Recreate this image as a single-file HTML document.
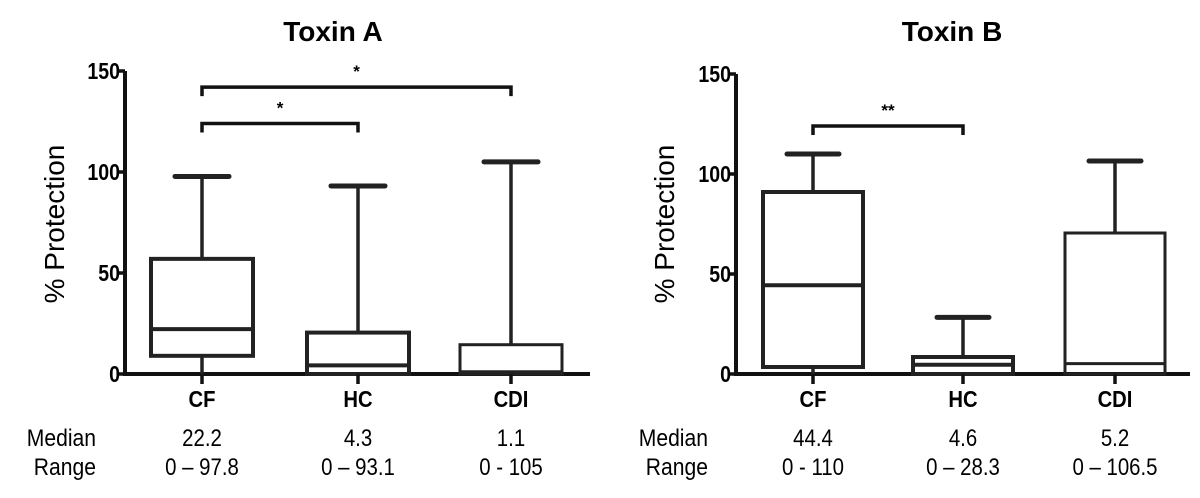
<!DOCTYPE html>
<html><head><meta charset="utf-8"><style>
body{margin:0;background:#fff;}
svg{display:block;font-family:"Liberation Sans",Arial,sans-serif;}
</style></head><body>
<svg id="c" width="1200" height="498" viewBox="0 0 1200 498"></svg>
<script>
const categories = ["CF","HC","CDI"];
const toxinAMax = [97.8, 93.1, 105];
const toxinAQ3 = [57, 20.5, 14.5];
const toxinAMedian = [22.2, 4.3, 1.1];
const toxinAQ1 = [9, 0, 0];
const toxinAMin = [0, 0, 0];
const toxinAWidth = [4, 4, 3];
const toxinBMax = [110, 28.3, 106.5];
const toxinBQ3 = [91, 8.5, 70.5];
const toxinBMedian = [44.4, 4.6, 5.2];
const toxinBQ1 = [3.5, 0, 0];
const toxinBMin = [0, 0, 0];
const toxinBWidth = [4, 4, 3];
const yTicks = [0, 50, 100, 150];
const medianLabelsA = ["22.2","4.3","1.1"];
const rangeLabelsA = ["0 – 97.8","0 – 93.1","0 - 105"];
const medianLabelsB = ["44.4","4.6","5.2"];
const rangeLabelsB = ["0 - 110","0 – 28.3","0 – 106.5"];

const NS="http://www.w3.org/2000/svg";
const svg=document.getElementById('c');
function mk(tag,attrs,parent){const e=document.createElementNS(NS,tag);for(const k in attrs)e.setAttribute(k,attrs[k]);(parent||svg).appendChild(e);return e;}
function sq(x,s){return `translate(${x},0) scale(${s},1) translate(${-x},0)`;}

function chart(cfg){
  const g=mk('g',{});
  
  
  const y=v=>cfg.y0-(v/150)*(cfg.y0-cfg.y150);
  const x=i=>cfg.centers[i];
  const t=mk('text',{x:cfg.titleX,y:41,'text-anchor':'middle','font-size':28,'font-weight':'bold'},g);
  t.textContent=cfg.title;
  
  
  const yl=mk('text',{transform:`translate(${cfg.ylabX},224) rotate(-90)`,'text-anchor':'middle','font-size':28},g);
  yl.textContent='% Protection';
  
  
  const ax=mk('path',{d:`M${cfg.axX},${y(150)} V${cfg.y0} H${cfg.axEnd}`,stroke:'#111','stroke-width':4,fill:'none'},g);
  
  
  yTicks.forEach(v=>{
    mk('line',{x1:cfg.axX-6,x2:cfg.axX,y1:y(v),y2:y(v),stroke:'#111','stroke-width':3.5},g);
    const tl=mk('text',{x:cfg.axX-5,y:y(v)+8,'text-anchor':'end','font-size':23,'font-weight':'bold',transform:sq(cfg.axX-5,0.85)},g);
    tl.textContent=v;
    
    
  });
  categories.forEach((c,i)=>{
    const cx=x(i), hw=cfg.boxHalf, cw=cfg.capHalf, sw=cfg.widths[i];
    const bg=mk('g',{stroke:'#222','stroke-width':sw,fill:'none'},g);
    
    
    mk('line',{x1:cx,x2:cx,y1:y(cfg.max[i]),y2:y(cfg.q3[i]),'stroke-width':3.5},bg);
    mk('line',{x1:cx-cw,x2:cx+cw,y1:y(cfg.max[i]),y2:y(cfg.max[i]),'stroke-width':5,'stroke-linecap':'round'},bg);
    mk('line',{x1:cx,x2:cx,y1:y(cfg.q1[i]),y2:y(cfg.min[i]),'stroke-width':3.5},bg);
    mk('rect',{x:cx-hw,y:y(cfg.q3[i]),width:2*hw,height:y(cfg.q1[i])-y(cfg.q3[i])},bg);
    mk('line',{x1:cx-hw,x2:cx+hw,y1:y(cfg.med[i]),y2:y(cfg.med[i])},bg);
    mk('line',{x1:cx,x2:cx,y1:cfg.y0,y2:cfg.y0+10,stroke:'#111','stroke-width':3.5},g);
    const cl=mk('text',{x:cx,y:407,'text-anchor':'middle','font-size':23,'font-weight':'bold',transform:sq(cx,0.88)},g);
    cl.textContent=c;
    
    
    const ml=mk('text',{x:cx,y:446,'text-anchor':'middle','font-size':24,transform:sq(cx,0.85)},g);
    ml.textContent=cfg.medLab[i];
    
    
    const rl=mk('text',{x:cx,y:475,'text-anchor':'middle','font-size':24,transform:sq(cx,0.85)},g);
    rl.textContent=cfg.rangeLab[i];
    
    
  });
  const m=mk('text',{x:cfg.rowX,y:446,'text-anchor':'end','font-size':24,transform:sq(cfg.rowX,0.88)},g);
  m.textContent='Median';
  
  
  const r=mk('text',{x:cfg.rowX,y:475,'text-anchor':'end','font-size':24,transform:sq(cfg.rowX,0.88)},g);
  r.textContent='Range';
  
  
  cfg.brackets.forEach(b=>{
    const x1=x(b[0]),x2=x(b[1]),by=y(b[2]);
    const p=mk('path',{d:`M${x1},${by+9} V${by} H${x2} V${by+9}`,stroke:'#111','stroke-width':3.5,fill:'none'},g);
    
    
    const s=mk('text',{x:(x1+x2)/2,y:by-10,'text-anchor':'middle','font-size':17,'font-weight':'bold'},g);
    s.textContent=b[3];
    
    
  });
}
chart({name:'toxin-a-chart',title:'Toxin A',titleX:333,ylabX:64,axX:125,axEnd:590,y0:374,y150:71,
  centers:[202,358,511],boxHalf:51,capHalf:27,widths:toxinAWidth,
  max:toxinAMax,q3:toxinAQ3,med:toxinAMedian,q1:toxinAQ1,min:toxinAMin,
  medLab:medianLabelsA,rangeLab:rangeLabelsA,rowX:96,
  brackets:[[0,2,142,'*'],[0,1,124,'*']]});
chart({name:'toxin-b-chart',title:'Toxin B',titleX:952,ylabX:674,axX:736,axEnd:1190,y0:374,y150:74,
  centers:[813,963,1115],boxHalf:50,capHalf:26,widths:toxinBWidth,
  max:toxinBMax,q3:toxinBQ3,med:toxinBMedian,q1:toxinBQ1,min:toxinBMin,
  medLab:medianLabelsB,rangeLab:rangeLabelsB,rowX:708,
  brackets:[[0,1,124,'**']]});
</script>
</body></html>
